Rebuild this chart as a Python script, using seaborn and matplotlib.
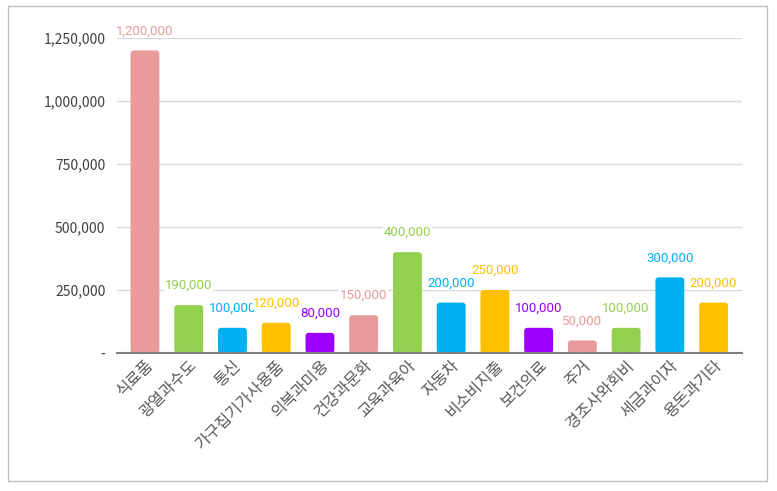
import pandas as pd
import matplotlib.pyplot as plt
import seaborn as sns
from matplotlib.patches import FancyBboxPatch, Rectangle
from matplotlib.ticker import FuncFormatter

categories = ['식료품', '광열과수도', '통신', '가구집기가사용품', '의복과미용', '건강과문화', '교육과육아',
              '자동차', '비소비지출', '보건의료', '주거', '경조사와회비', '세금과이자', '용돈과기타']
amounts = [1200000, 190000, 100000, 120000, 80000, 150000, 400000,
           200000, 250000, 100000, 50000, 100000, 300000, 200000]
bar_colors = ['#E99A9A', '#92D050', '#00B0F0', '#FFC000', '#9B00FF', '#E99A9A', '#92D050',
              '#00B0F0', '#FFC000', '#9B00FF', '#E99A9A', '#92D050', '#00B0F0', '#FFC000']
y_ticks = [0, 250000, 500000, 750000, 1000000, 1250000]

sns.set_style('white')
plt.rcParams['font.family'] = ['Noto Sans CJK KR', 'DejaVu Sans']

df = pd.DataFrame({'항목': categories, '금액': amounts})

fig = plt.figure(figsize=(7.77, 4.91), dpi=100)
ax = fig.add_axes([0.150, 0.281, 0.805, 0.642])

sns.barplot(data=df, x='항목', y='금액', hue='항목', palette=bar_colors,
            legend=False, width=0.66, ax=ax, saturation=1)

ax.set_xlim(-0.65, 13.65)
ax.set_ylim(0, 1250000)

# rounded bar corners
aspect = (1250000 / 315) / (1 / 43.7)
for p in list(ax.patches):
    x, y, w, h = p.get_x(), p.get_y(), p.get_width(), p.get_height()
    fc = p.get_facecolor()
    p.remove()
    ax.add_patch(FancyBboxPatch((x, y), w, h, boxstyle='round,pad=0,rounding_size=0.07',
                                mutation_aspect=aspect, facecolor=fc, edgecolor='none', zorder=2))

for i, (v, c) in enumerate(zip(amounts, bar_colors)):
    ax.annotate(f'{v:,}', (i, v), xytext=(0, 14), textcoords='offset points',
                ha='center', va='center', color=c, fontsize=9.5, family='Roboto',
                bbox=dict(boxstyle='square,pad=0.05', fc='white', ec='none'),
                annotation_clip=False, zorder=4)

ax.set_yticks(y_ticks)
ax.yaxis.set_major_formatter(FuncFormatter(lambda v, _: '-' if v == 0 else f'{v:,.0f}'))
ax.grid(axis='y', color='#D9D9D9', linewidth=1)
ax.set_axisbelow(True)
for s in ['top', 'right', 'left']:
    ax.spines[s].set_visible(False)
ax.spines['bottom'].set_color('#808080')
ax.spines['bottom'].set_linewidth(1.5)
ax.spines['bottom'].set_zorder(5)

ax.tick_params(axis='y', length=0, labelsize=10, labelcolor='#404040', pad=8)
ax.tick_params(axis='x', length=0, labelsize=11.5, labelcolor='#595959', pad=3)
plt.setp(ax.get_xticklabels(), rotation=45, ha='right', rotation_mode='anchor')
ax.set_xlabel('')
ax.set_ylabel('')

fig.patches.append(Rectangle((8 / 777, 10 / 491), 759 / 777, 475 / 491, transform=fig.transFigure,
                             fill=False, edgecolor='#BFBFBF', linewidth=1))

fig.savefig('out.png', dpi=100)
